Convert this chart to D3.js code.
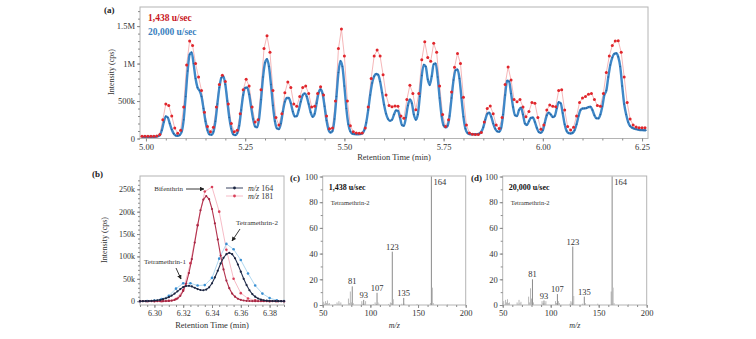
<!DOCTYPE html>
<html>
<head>
<meta charset="utf-8">
<script src="https://cdn.jsdelivr.net/npm/d3@7"></script>
<style>
  body { margin: 0; background: #fff; }
  svg { display: block; }
  text { font-family: "Liberation Serif", "Times New Roman", serif; }
</style>
</head>
<body>
<svg id="fig" width="756" height="339"></svg>
<script>
// ---------- (a) chromatogram, intensity in k-cps ----------
const tStartFast = 4.99, tStepFast = 0.005;     // 20,000 u/sec trace
const fastA = [
  22,22,22,22,22,22,23,24,30,45,
  110,220,295,280,200,120,65,40,36,45,
  90,250,560,900,1120,1150,1000,800,680,640,
  560,400,230,110,55,50,90,230,460,680,
  810,830,720,500,280,130,55,45,70,170,
  380,580,675,680,590,420,260,160,150,260,
  520,820,1010,1060,960,720,440,230,135,125,
  200,360,490,540,540,470,360,295,300,380,
  490,580,600,560,460,350,290,330,470,610,
  655,600,430,240,120,80,100,260,560,880,
  1035,960,700,400,190,95,65,58,56,56,
  58,70,110,210,380,580,740,830,860,850,
  760,610,450,330,260,236,250,320,375,370,
  280,180,170,280,440,520,470,320,250,320,
  560,840,985,960,790,715,830,990,1000,820,
  540,300,175,148,170,300,540,780,910,920,
  800,540,290,130,75,60,57,56,56,58,
  65,90,150,250,330,343,290,200,130,95,
  90,140,320,580,770,760,600,420,310,300,
  380,410,320,200,180,230,275,280,220,140,
  85,76,110,210,310,345,320,285,300,400,
  485,470,340,190,100,72,67,75,110,190,
  300,380,400,402,405,420,424,380,310,270,
  268,320,430,580,640,820,980,1080,1130,1137,
  1090,960,700,460,320,220,165,145,132,124,
  118,114,112,111,111
];
const tStartSlow = 4.99, tStepSlow = 0.0075;    // 1,438 u/sec trace
const slowA = [
  30,30,30,30,30,32,55,250,460,440,
  300,140,70,110,420,980,1300,1240,1000,820,
  640,350,160,90,150,420,720,845,760,460,
  200,90,110,330,650,790,700,420,220,250,
  650,1200,1370,1150,640,280,180,330,610,755,
  680,460,430,560,680,700,600,420,430,600,
  690,580,300,130,140,500,1200,1460,1100,500,
  170,90,72,70,75,140,420,800,1100,1180,
  1100,850,580,440,424,433,430,300,270,520,
  710,600,385,600,1050,1290,1080,1030,1270,1150,
  700,320,160,250,620,950,1135,1000,550,180,
  75,58,55,55,80,220,400,433,330,180,
  135,280,720,955,780,520,490,520,420,290,
  360,480,470,280,125,180,380,446,430,425,
  640,650,380,160,112,150,300,480,540,560,
  590,600,520,440,430,600,880,1100,1240,1300,
  1305,1150,820,480,260,180,155,145,143,143
];
const xTicksA = [5.00, 5.25, 5.50, 5.75, 6.00, 6.25];
const yTicksA = [0, 500, 1000, 1500];
const yTickLabelsA = ["0", "500k", "1M", "1.5M"];

// ---------- (b) extracted ion chromatograms, k-cps ----------
const tStartB = 6.29, tStepDenseB = 0.002, tStepSparseB = 0.005;
const mz164Fast = [
  0,0,0.2,0.4,0.8,1.3,2,3,4.5,6.5,
  9,12.5,17,22,27,31.5,34,34.5,33,30,
  27,25,24.5,26,31,40,53,68,84,97,
  105,108,105,96,82,66,50,36,24.5,16,
  10,6,3.5,2,1.2,0.7,0.4,0.2,0.1,0,0
];
const mz181Fast = [
  0,0,0,0,0,0,0,0,0.1,0.2,
  0.5,1.2,2.8,6,12,23,39,63,94,131,
  169,203,227,235,228,206,174,138,102,71,
  46,29,17,10,5.5,3,1.6,0.8,0.4,0.2,
  0.1,0,0,0,0,0,0,0,0,0,0
];
const mz164Slow = [0,0.5,1.5,5,12,28,40,40,35,36,52,95,128,116,92,62,35,17,7,2,0.5];
const mz181Slow = [0,0,0,0,1,5,25,85,170,245,255,200,115,50,18,6,2,1,0,0,0];
const xTicksB = [6.30, 6.32, 6.34, 6.36, 6.38];
const yTicksB = [0, 50, 100, 150, 200, 250];

// ---------- (c), (d) mass spectra, relative abundance ----------
const mzC  = [50,51,52,53,54,55,56,57,63,65,66,67,68,69,77,78,79,80,81,82,91,92,93,94,95,103,105,106,107,108,109,119,121,122,123,124,133,135,136,149,163,164,165,166,181];
const intC = [1,2.5,1,3,1.5,3.5,1,1.5,0.8,2,1,3,1,2,5,1.5,10.5,2,14.5,1.5,3,1,4,1,3,0.8,2,0.8,9.5,2,1,0.8,2,1.5,41.5,4.5,1,5.5,1,0.8,1.5,100,13.5,1.5,0.5];
const mzD  = [50,51,53,54,55,56,57,65,66,67,68,69,77,78,79,80,81,82,91,92,93,94,95,105,106,107,108,109,120,121,122,123,124,133,135,136,149,163,164,165,166,181];
const intD = [1.5,3,4,2,4.5,1.5,2,2,1,4,1.5,2.5,6.5,2,13,5,20,2,3,1.5,3.5,1.5,3,3,1.5,8.5,3,1.5,1,3,2,45.5,7,1,6.5,1.5,1,10.5,100,13.5,1.5,0.5];
const labelledMz = [81, 93, 107, 123, 135];
const baseMz = 164;
const xTicksMS = [50, 100, 150, 200];
const yTicksMS = [0, 20, 40, 60, 80, 100];

// ---------- drawing ----------
const svg = d3.select("#fig");
const FRAME = "#b4b4b4", TICK = "#8c8c8c", INK = "#333";

function frame(x0, x1, y0, y1) {
  svg.append("rect").attr("x", x0).attr("y", y0)
    .attr("width", x1 - x0).attr("height", y1 - y0)
    .attr("fill", "none").attr("stroke", FRAME).attr("stroke-width", 1);
}
function axis(gen, tx, ty, fs) {
  const g = svg.append("g").attr("transform", `translate(${tx},${ty})`).call(gen);
  g.select(".domain").remove();
  g.selectAll("line").attr("stroke", TICK);
  g.selectAll("text").attr("fill", INK).style("font-size", fs + "px")
    .style("font-family", "Liberation Serif, serif");
  return g;
}
function label(x, y, str, opt = {}) {
  const t = svg.append("text").attr("x", x).attr("y", y).text(str)
    .attr("fill", opt.fill || INK).style("font-size", (opt.fs || 8) + "px")
    .attr("text-anchor", opt.anchor || "start");
  if (opt.bold) t.style("font-weight", "bold");
  if (opt.italic) t.style("font-style", "italic");
  return t;
}
function vlabel(x, y, str, fs) {
  svg.append("text").attr("transform", `translate(${x},${y}) rotate(-90)`)
    .attr("text-anchor", "middle").attr("fill", INK)
    .style("font-size", fs + "px").text(str);
}
function arrow(x1, y1, x2, y2) {
  svg.append("line").attr("x1", x1).attr("y1", y1).attr("x2", x2).attr("y2", y2)
    .attr("stroke", "#222").attr("stroke-width", 0.9).attr("marker-end", "url(#ah)");
}
svg.append("defs").append("marker").attr("id", "ah")
  .attr("viewBox", "0 0 10 10").attr("refX", 9).attr("refY", 5)
  .attr("markerWidth", 5).attr("markerHeight", 5).attr("orient", "auto")
  .append("path").attr("d", "M0,0 L10,5 L0,10 z").attr("fill", "#222");

// ===== panel (a) =====
{
  const x = d3.scaleLinear([4.985, 6.265], [140, 648]);
  const y = d3.scaleLinear([0, 1755], [138.5, 7]);
  frame(140, 648, 7, 138.5);
  axis(d3.axisBottom(x).tickValues(d3.range(5.0, 6.2501, 0.05)).tickSize(2).tickFormat(""), 0, 138.5, 8);
  axis(d3.axisBottom(x).tickValues(xTicksA).tickSize(3).tickPadding(2).tickFormat(d3.format(".2f")), 0, 138.5, 8.5);
  axis(d3.axisLeft(y).tickValues(d3.range(0, 1701, 100)).tickSize(2).tickFormat(""), 140, 0, 8);
  axis(d3.axisLeft(y).tickValues(yTicksA).tickSize(3).tickPadding(2)
    .tickFormat((d, i) => yTickLabelsA[i]), 140, 0, 8.5);

  const fast = fastA.map((v, i) => [tStartFast + i * tStepFast, v]);
  const slow = slowA.map((v, i) => [tStartSlow + i * tStepSlow, v]);
  const line = d3.line().x(d => x(d[0])).y(d => y(d[1]));

  svg.append("path").datum(slow).attr("d", line.curve(d3.curveLinear))
    .attr("fill", "none").attr("stroke", "#f2a3a6").attr("stroke-width", 0.8);
  svg.append("path").datum(fast).attr("d", line.curve(d3.curveMonotoneX))
    .attr("fill", "none").attr("stroke", "#3f88c8").attr("stroke-width", 2.4);
  svg.append("g").selectAll("circle").data(fast).join("circle")
    .attr("cx", d => x(d[0])).attr("cy", d => y(d[1])).attr("r", 0.8).attr("fill", "#26639f");
  svg.append("g").selectAll("circle").data(slow).join("circle")
    .attr("cx", d => x(d[0])).attr("cy", d => y(d[1])).attr("r", 1.5).attr("fill", "#e0262c");

  label(104, 13, "(a)", { bold: true, fs: 9, fill: "#222" });
  label(148, 21, "1,438 u/sec", { bold: true, fs: 9.5, fill: "#c8161d" });
  label(148, 35, "20,000 u/sec", { bold: true, fs: 9.5, fill: "#3b7fc0" });
  vlabel(114, 72, "Intensity (cps)", 8);
  label(394, 160, "Retention Time (min)", { anchor: "middle", fs: 8.5 });
}

// ===== panel (b) =====
{
  const x = d3.scaleLinear([6.29, 6.39], [140, 284]);
  const y = d3.scaleLinear([-8.5, 279.7], [305, 176]);
  frame(140, 284, 176, 305);
  axis(d3.axisBottom(x).tickValues(d3.range(6.29, 6.3901, 0.005)).tickSize(2).tickFormat(""), 0, 305, 8);
  axis(d3.axisBottom(x).tickValues(xTicksB).tickSize(3).tickPadding(2).tickFormat(d3.format(".2f")), 0, 305, 8);
  axis(d3.axisLeft(y).tickValues(d3.range(0, 271, 10)).tickSize(2).tickFormat(""), 140, 0, 8);
  axis(d3.axisLeft(y).tickValues(yTicksB).tickSize(3).tickPadding(2)
    .tickFormat(d => d === 0 ? "0" : d + "k"), 140, 0, 8);

  const ser = (arr, step) => arr.map((v, i) => [tStartB + i * step, v]);
  const line = d3.line().x(d => x(d[0])).y(d => y(d[1]));
  const traces = [
    { d: ser(mz181Slow, tStepSparseB), line: "#f5b3c0", lw: 0.9, dot: "#d8405a", r: 1.3 },
    { d: ser(mz164Slow, tStepSparseB), line: "#a7d4ee", lw: 0.9, dot: "#3a8fd2", r: 1.3 },
    { d: ser(mz181Fast, tStepDenseB), line: "#b3344f", lw: 1.1, dot: "#a52643", r: 1.1 },
    { d: ser(mz164Fast, tStepDenseB), line: "#24304f", lw: 1.1, dot: "#1b2540", r: 1.1 }
  ];
  traces.forEach(tr => {
    svg.append("path").datum(tr.d).attr("d", line)
      .attr("fill", "none").attr("stroke", tr.line).attr("stroke-width", tr.lw);
    svg.append("g").selectAll("circle").data(tr.d).join("circle")
      .attr("cx", d => x(d[0])).attr("cy", d => y(d[1])).attr("r", tr.r).attr("fill", tr.dot);
  });

  // legend
  [[188, "#24304f", "#1b2540", "164"], [196, "#f5b3c0", "#d8405a", "181"]].forEach(([ly, lc, dc, m]) => {
    svg.append("line").attr("x1", 226).attr("x2", 243).attr("y1", ly).attr("y2", ly)
      .attr("stroke", lc).attr("stroke-width", 0.9);
    svg.append("circle").attr("cx", 234.5).attr("cy", ly).attr("r", 1.4).attr("fill", dc);
    const t = label(248, ly + 3, "", { fs: 8 });
    t.append("tspan").style("font-style", "italic").text("m/z");
    t.append("tspan").text(" " + m);
  });

  label(183, 191, "Bifenthrin", { anchor: "end", fs: 7 });
  arrow(186, 189, 204, 189);
  label(236, 225, "Tetramethrin-2", { fs: 7 });
  arrow(240, 229, 232, 241);
  label(165, 264, "Tetramethrin-1", { anchor: "middle", fs: 7 });
  arrow(176, 268, 181, 279);

  label(92, 177, "(b)", { bold: true, fs: 9, fill: "#222" });
  vlabel(107, 240, "Intensity (cps)", 8);
  label(212, 328, "Retention Time (min)", { anchor: "middle", fs: 8.5 });
}

// ===== panels (c), (d) =====
function spectrum(x0, x1, mz, inten, tag, speed, tagX) {
  const x = d3.scaleLinear([50, 200], [x0, x1]);
  const y = d3.scaleLinear([0, 100], [305, 176.5]);
  frame(x0, x1, 176, 305);
  axis(d3.axisBottom(x).tickValues(d3.range(50, 201, 10)).tickSize(2).tickFormat(""), 0, 305, 8);
  axis(d3.axisBottom(x).tickValues(xTicksMS).tickSize(3).tickPadding(2), 0, 305, 8.5);
  axis(d3.axisLeft(y).tickValues(d3.range(0, 101, 10)).tickSize(2).tickFormat(""), x0, 0, 8);
  axis(d3.axisLeft(y).tickValues(yTicksMS).tickSize(3).tickPadding(2), x0, 0, 8.5);

  const peaks = mz.map((m, i) => ({ m, v: inten[i] }));
  svg.append("g").selectAll("line").data(peaks).join("line")
    .attr("x1", d => x(d.m)).attr("x2", d => x(d.m))
    .attr("y1", y(0)).attr("y2", d => y(d.v))
    .attr("stroke", d => (d.m === baseMz || labelledMz.includes(d.m)) ? "#8a8a8a" : "#b9b9b9")
    .attr("stroke-width", 1);

  peaks.filter(d => labelledMz.includes(d.m)).forEach(d => {
    label(x(d.m), y(d.v) - 2, String(d.m), { anchor: "middle", fs: 8.5 });
  });
  const base = peaks.find(d => d.m === baseMz);
  label(x(base.m) + 2, y(base.v) + 8, String(base.m), { fs: 8.5 });

  label(tagX, 181, tag, { bold: true, fs: 9, fill: "#222" });
  label(x0 + 6, 190, speed, { bold: true, fs: 8, fill: "#111" });
  label(x0 + 8, 205, "Tetramethrin-2", { fs: 6.5 });
  label((x0 + x1) / 2, 328, "m/z", { anchor: "middle", italic: true, fs: 8 });
}
spectrum(322.7, 465.7, mzC, intC, "(c)", "1,438 u/sec", 290);
spectrum(502.7, 646.7, mzD, intD, "(d)", "20,000 u/sec", 471);
</script>
</body>
</html>
